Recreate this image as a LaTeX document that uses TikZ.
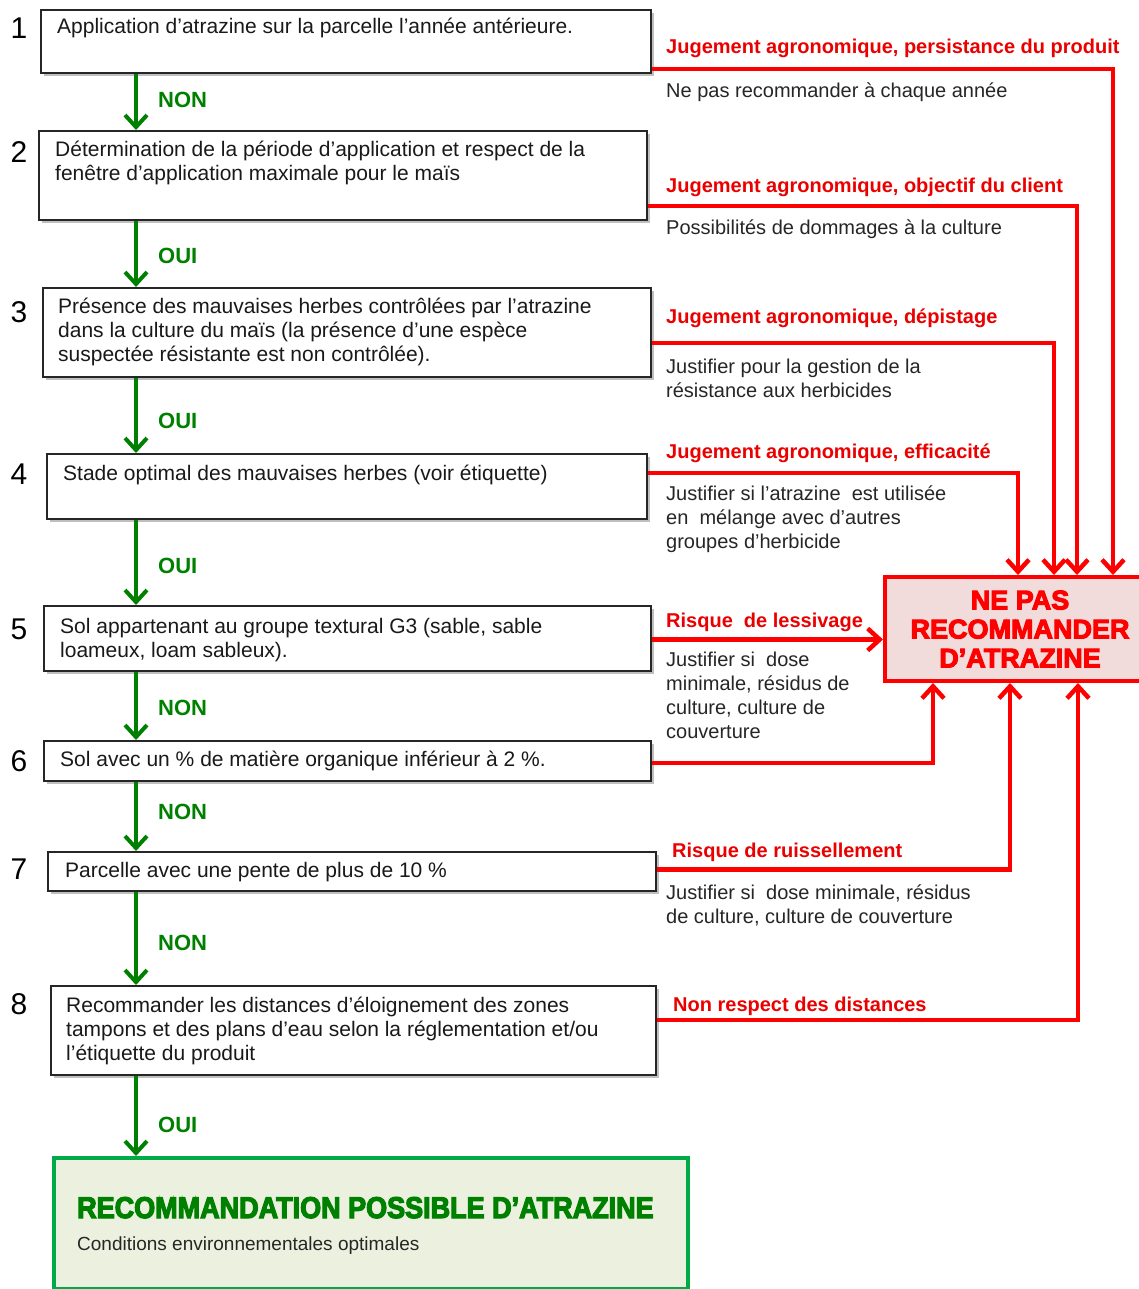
\documentclass[tikz,border=0pt]{standalone}
\usepackage{fontspec}
\setmainfont{Liberation Sans}
\newfontfamily\heavyfont{Liberation Sans Bold}[FakeBold=4]
\newfontfamily\heavycond{Liberation Sans Bold}[FakeBold=4,FakeStretch=0.9]
\usetikzlibrary{arrows.meta,calc,shadows}
\definecolor{rouge}{RGB}{255,0,0}
\definecolor{rougetxt}{RGB}{235,0,0}
\definecolor{vertf}{RGB}{0,128,0}
\definecolor{vertc}{RGB}{0,170,70}
\definecolor{fondv}{RGB}{235,241,222}
\definecolor{fondr}{RGB}{242,220,219}
\newcommand{\tlines}[1]{\begin{tabular}[t]{@{}l@{}}#1\end{tabular}}
\begin{document}
\begin{tikzpicture}[x=1pt,y=-1pt,
  box/.style={draw=black!85, line width=2pt, fill=white, anchor=north west, inner sep=0pt,
     drop shadow={shadow xshift=3pt, shadow yshift=-3pt, opacity=0.25, fill=black}},
  btxt/.style={anchor=base west, inner sep=0pt, font=\fontsize{21}{24}\selectfont, text=black!90},
  num/.style={anchor=base, inner sep=0pt, font=\fontsize{30}{30}\selectfont},
  yn/.style={anchor=base west, inner sep=0pt, font=\fontsize{22}{22}\selectfont\bfseries, text=vertf},
  rlab/.style={anchor=base west, inner sep=0pt, font=\fontsize{20}{24}\selectfont\bfseries, text=rougetxt},
  note/.style={anchor=base west, inner sep=0pt, font=\fontsize{20}{24}\selectfont, text=black!85},
  garrow/.style={draw=vertf, line width=4pt, -{Straight Barb[length=12pt,width=22pt]}},
  rline/.style={draw=rouge, line width=4.5pt, -{Straight Barb[length=12pt,width=22pt]}},
]
\fill[white] (0,0) rectangle (1138,1289);
\useasboundingbox (0,0) rectangle (1138,1289);

% boxes
\node[box, minimum width=610pt, minimum height=63pt] (b1) at (40,9) {};
\node[box, minimum width=608pt, minimum height=89pt] (b2) at (38,130) {};
\node[box, minimum width=608pt, minimum height=89pt] (b3) at (42,287) {};
\node[box, minimum width=600pt, minimum height=65pt] (b4) at (46,453) {};
\node[box, minimum width=607pt, minimum height=65pt] (b5) at (43,605) {};
\node[box, minimum width=607pt, minimum height=40pt] (b6) at (43,740) {};
\node[box, minimum width=608pt, minimum height=39pt] (b7) at (47,851) {};
\node[box, minimum width=605pt, minimum height=89pt] (b8) at (50,985) {};
\node[draw=vertc, line width=4pt, fill=fondv, anchor=north west, inner sep=0pt,
      minimum width=634pt, minimum height=131pt] (ok) at (52,1156) {};
\node[draw=rouge, line width=4pt, fill=fondr, anchor=north west, inner sep=0pt,
      minimum width=270pt, minimum height=104pt, align=center, text=rouge,
      font=\heavyfont\fontsize{27}{29}\selectfont] (nr) at (883,575)
      {NE PAS\\RECOMMANDER\\D’ATRAZINE};

% box texts
\node[btxt] (t1) at (57,34) {Application d’atrazine sur la parcelle l’année antérieure.};
\node[btxt] (t2) at (55,157) {\tlines{Détermination de la période d’application et respect de la\\fenêtre d’application maximale pour le maïs}};
\node[btxt] (t3) at (58,313) {\tlines{Présence des mauvaises herbes contrôlées par l’atrazine\\dans la culture du maïs (la présence d’une espèce\\suspectée résistante est non contrôlée).}};
\node[btxt] (t4) at (63,480) {Stade optimal des mauvaises herbes (voir étiquette)};
\node[btxt] (t5) at (60,633) {\tlines{Sol appartenant au groupe textural G3 (sable, sable\\loameux, loam sableux).}};
\node[btxt] (t6) at (60,766) {Sol avec un \% de matière organique inférieur à 2 \%.};
\node[btxt] (t7) at (65,877) {Parcelle avec une pente de plus de 10 \%};
\node[btxt] (t8) at (66,1012) {\tlines{Recommander les distances d’éloignement des zones\\tampons et des plans d’eau selon la réglementation et/ou\\l’étiquette du produit}};
\node[anchor=base west, inner sep=0pt, text=vertf, font=\heavycond\fontsize{30}{30}\selectfont] (okt) at (77,1218) {RECOMMANDATION POSSIBLE D’ATRAZINE};
\node[anchor=base west, inner sep=0pt, text=black!85, font=\fontsize{19}{22}\selectfont] (okn) at (77,1250) {Conditions environnementales optimales};

% numbers
\node[num] (n1) at (19,39) {1};
\node[num] (n2) at (19,163) {2};
\node[num] (n3) at (19,322) {3};
\node[num] (n4) at (19,484) {4};
\node[num] (n5) at (19,639) {5};
\node[num] (n6) at (19,771) {6};
\node[num] (n7) at (19,879) {7};
\node[num] (n8) at (19,1014) {8};

% green arrows
\coordinate (ax) at (136,0);
\draw[garrow] (b1.south -| ax) -- (b2.north -| ax);
\draw[garrow] (b2.south -| ax) -- (b3.north -| ax);
\draw[garrow] (b3.south -| ax) -- (b4.north -| ax);
\draw[garrow] (b4.south -| ax) -- (b5.north -| ax);
\draw[garrow] (b5.south -| ax) -- (b6.north -| ax);
\draw[garrow] (b6.south -| ax) -- (b7.north -| ax);
\draw[garrow] (b7.south -| ax) -- (b8.north -| ax);
\draw[garrow] (b8.south -| ax) -- (ok.north -| ax);
\node[yn] (y1) at (158,108) {NON};
\node[yn] (y2) at (158,263) {OUI};
\node[yn] (y3) at (158,428) {OUI};
\node[yn] (y4) at (158,573) {OUI};
\node[yn] (y5) at (158,715) {NON};
\node[yn] (y6) at (158,819) {NON};
\node[yn] (y7) at (158,950) {NON};
\node[yn] (y8) at (158,1132) {OUI};

% red connectors
\coordinate (p5) at ($(b5.east)+(0,1)$);
\draw[rline] ($(b1.south east)+(0,-5)$) -| ($(nr.north west)+(230,0)$);
\draw[rline] ($(b2.south east)+(0,-15)$) -| ($(nr.north west)+(194,0)$);
\draw[rline] ($(b3.south east)+(0,-35)$) -| ($(nr.north west)+(171,0)$);
\draw[rline] ($(b4.north east)+(0,20)$) -| ($(nr.north west)+(135,0)$);
\draw[rline] (p5) -- (p5 -| nr.west);
\draw[rline] ($(b6.east)+(0,2)$) -| ($(nr.south west)+(50,0)$);
\draw[rline] ($(b7.east)+(0,-2)$) -| ($(nr.south west)+(127,0)$);
\draw[rline] ($(b8.north east)+(0,35)$) -| ($(nr.south west)+(195,0)$);

% red labels
\node[rlab] (r1) at (666,54) {Jugement agronomique, persistance du produit};
\node[rlab] (r2) at (666,193) {Jugement agronomique, objectif du client};
\node[rlab] (r3) at (666,323) {Jugement agronomique, dépistage};
\node[rlab] (r4) at (666,458) {Jugement agronomique, efficacité};
\node[rlab] (r5) at (666,627) {Risque\ \ de lessivage};
\node[rlab] (r7) at (672,857) {Risque de ruissellement};
\node[rlab] (r8) at (673,1011) {Non respect des distances};

% notes
\node[note] (m1) at (666,98) {Ne pas recommander à chaque année};
\node[note] (m2) at (666,234) {Possibilités de dommages à la culture};
\node[note] (m3) at (666,373) {\tlines{Justifier pour la gestion de la\\résistance aux herbicides}};
\node[note] (m4) at (666,500) {\tlines{Justifier si l’atrazine\ \ est utilisée\\en\ \ mélange avec d’autres\\groupes d’herbicide}};
\node[note] (m5) at (666,666) {\tlines{Justifier si\ \ dose\\minimale, résidus de\\culture, culture de\\couverture}};
\node[note] (m7) at (666,899) {\tlines{Justifier si\ \ dose minimale, résidus\\de culture, culture de couverture}};
\end{tikzpicture}
\end{document}
